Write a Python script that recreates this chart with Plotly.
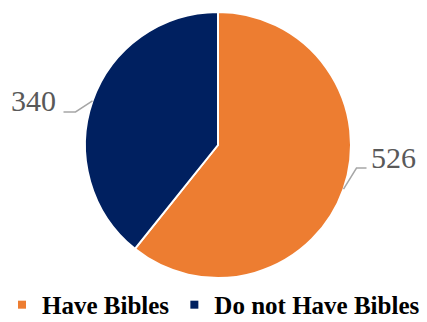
import math
import plotly.graph_objects as go

labels = ["Have Bibles", "Do not Have Bibles"]
values = [526, 340]
colors = ["#ED7D31", "#002060"]

W, H = 427, 322
ML, MR, MT, MB = 9, 0, 12, 44
PW, PH = W - ML - MR, H - MT - MB
R = min(PW, PH) / 2
CX, CY = ML + PW / 2, MT + PH / 2

# leader-line geometry (pixel offsets) per side
LEADER = {
    "right": dict(elbow=(13, -21), run=10, text_dx=2, text_dy=-11, anchor="left"),
    "left": dict(elbow=(-17, 11), run=-12, text_dx=-5, text_dy=-11, anchor="right"),
}

def to_paper(x, y):
    return (x - ML) / PW, 1 - (y - MT) / PH

fig = go.Figure(go.Pie(
    labels=labels, values=values, sort=False, direction="clockwise", rotation=0,
    marker=dict(colors=colors, line=dict(color="white", width=2)),
    textinfo="none", hoverinfo="label+value", showlegend=False,
))

# legend entries with small square markers
for lab, col in zip(labels, colors):
    fig.add_trace(go.Scatter(x=[None], y=[None], mode="markers", name=lab,
                             marker=dict(symbol="square", size=8, color=col),
                             hoverinfo="skip"))

total = sum(values)
cum = 0
shapes, annotations = [], []
for lab, v in zip(labels, values):
    theta = 2 * math.pi * (cum + v / 2) / total
    cum += v
    ex, ey = CX + R * math.sin(theta), CY - R * math.cos(theta)
    side = "right" if math.sin(theta) > 0 else "left"
    g = LEADER[side]
    bx, by = ex + g["elbow"][0], ey + g["elbow"][1]
    tx, ty = bx + g["run"], by
    pts = [to_paper(ex, ey), to_paper(bx, by), to_paper(tx, ty)]
    path = "M {} {} L {} {} L {} {}".format(*[c for p in pts for c in p])
    shapes.append(dict(type="path", path=path, xref="paper", yref="paper",
                       line=dict(color="#A6A6A6", width=1.5)))
    ax, ay = to_paper(tx + g["text_dx"], ty + g["text_dy"])
    annotations.append(dict(x=ax, y=ay, xref="paper", yref="paper", text=str(v),
                            showarrow=False, xanchor=g["anchor"], yanchor="middle",
                            font=dict(family="Liberation Serif", size=30, color="#595959")))

fig.update_layout(
    width=W, height=H,
    margin=dict(l=ML, r=MR, t=MT, b=MB, autoexpand=False),
    paper_bgcolor="white", plot_bgcolor="white",
    xaxis=dict(visible=False), yaxis=dict(visible=False),
    shapes=shapes, annotations=annotations,
    showlegend=True,
    legend=dict(orientation="h", xref="container", x=0.5, xanchor="center",
                yref="container", y=0.053, yanchor="middle",
                font=dict(family="Liberation Serif", size=25,
                          color="#000000", weight="bold"),
                itemsizing="trace", itemwidth=30, tracegroupgap=0),
)

fig.write_html("out.html", config={"displayModeBar": False},
               post_script="document.body.style.margin='0';")
